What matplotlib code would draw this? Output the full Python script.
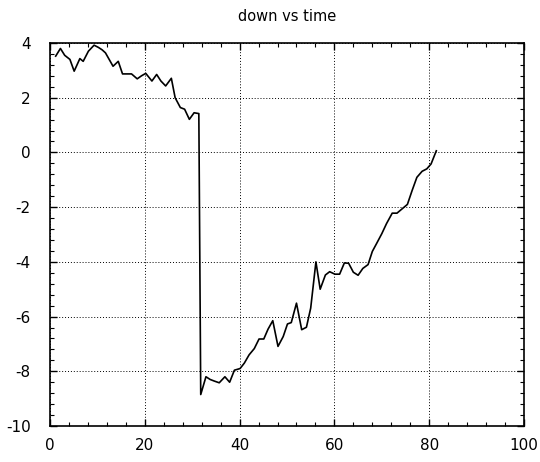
import numpy as np
import matplotlib.pyplot as plt
from matplotlib.ticker import MultipleLocator

plt.rcParams['axes.unicode_minus'] = False

# time samples and measured "down" values
time = [1.2, 2.2, 3.1, 4.2, 5.1, 6.3, 7.0, 8.1, 9.3, 10.2,
        11.0, 11.7, 13.3, 14.4, 15.3, 16.2, 17.2, 18.4, 19.3, 20.2,
        21.5, 22.5, 23.4, 24.4, 25.6, 26.4, 27.5, 28.4, 29.4, 30.4,
        31.4, 31.8, 32.9, 33.8, 34.7, 35.7, 36.9, 37.9, 38.9, 40.1,
        41.0, 42.0, 43.1, 44.1, 45.1, 46.0, 47.0, 48.1, 49.2, 50.1,
        50.9, 52.0, 53.1, 54.1, 55.0, 56.1, 57.0, 58.1, 59.0, 60.1,
        61.1, 62.1, 63.0, 64.0, 65.0, 66.0, 67.1, 68.0, 68.9, 70.0,
        71.0, 72.2, 73.2, 74.3, 75.4, 76.4, 77.4, 78.5, 79.5, 80.4,
        81.5]
down = [3.52, 3.80, 3.55, 3.40, 2.97, 3.43, 3.33, 3.70, 3.92, 3.84,
        3.75, 3.64, 3.15, 3.33, 2.87, 2.87, 2.87, 2.69, 2.80, 2.89,
        2.61, 2.85, 2.61, 2.43, 2.71, 2.00, 1.64, 1.58, 1.21, 1.45,
        1.42, -8.85, -8.20, -8.30, -8.36, -8.42, -8.20, -8.40, -7.96, -7.90,
        -7.70, -7.40, -7.17, -6.82, -6.82, -6.46, -6.15, -7.09, -6.73, -6.27,
        -6.22, -5.51, -6.48, -6.39, -5.69, -4.00, -5.00, -4.48, -4.36, -4.45,
        -4.45, -4.04, -4.05, -4.38, -4.49, -4.24, -4.10, -3.62, -3.33, -2.97,
        -2.60, -2.22, -2.22, -2.06, -1.90, -1.39, -0.91, -0.69, -0.60, -0.42,
        0.06]

fig = plt.figure(figsize=(5.4, 4.62), dpi=100)
ax = fig.add_axes([50/540, 1 - 426/462, 474/540, 383/462])

ax.plot(time, down, color='black', lw=1.2)

ax.set_xlim(0, 100)
ax.set_ylim(-10, 4)
ax.xaxis.set_major_locator(MultipleLocator(20))
ax.xaxis.set_minor_locator(MultipleLocator(4))
ax.yaxis.set_major_locator(MultipleLocator(2))
ax.yaxis.set_minor_locator(MultipleLocator(0.4))

ax.grid(True, which='major', linestyle=(0, (1, 2)), color='black', lw=0.7)
ax.tick_params(which='both', direction='in', top=True, right=True, color='black')
ax.tick_params(which='major', length=5, width=1, labelsize=11)
ax.tick_params(axis='x', which='major', pad=9)
ax.tick_params(axis='y', which='major', pad=14)
ax.tick_params(which='minor', length=3, width=0.8)
for s in ax.spines.values():
    s.set_linewidth(1.2)

ax.set_title('down vs time', fontsize=10.5, pad=16)

fig.savefig('out.png', dpi=100)
